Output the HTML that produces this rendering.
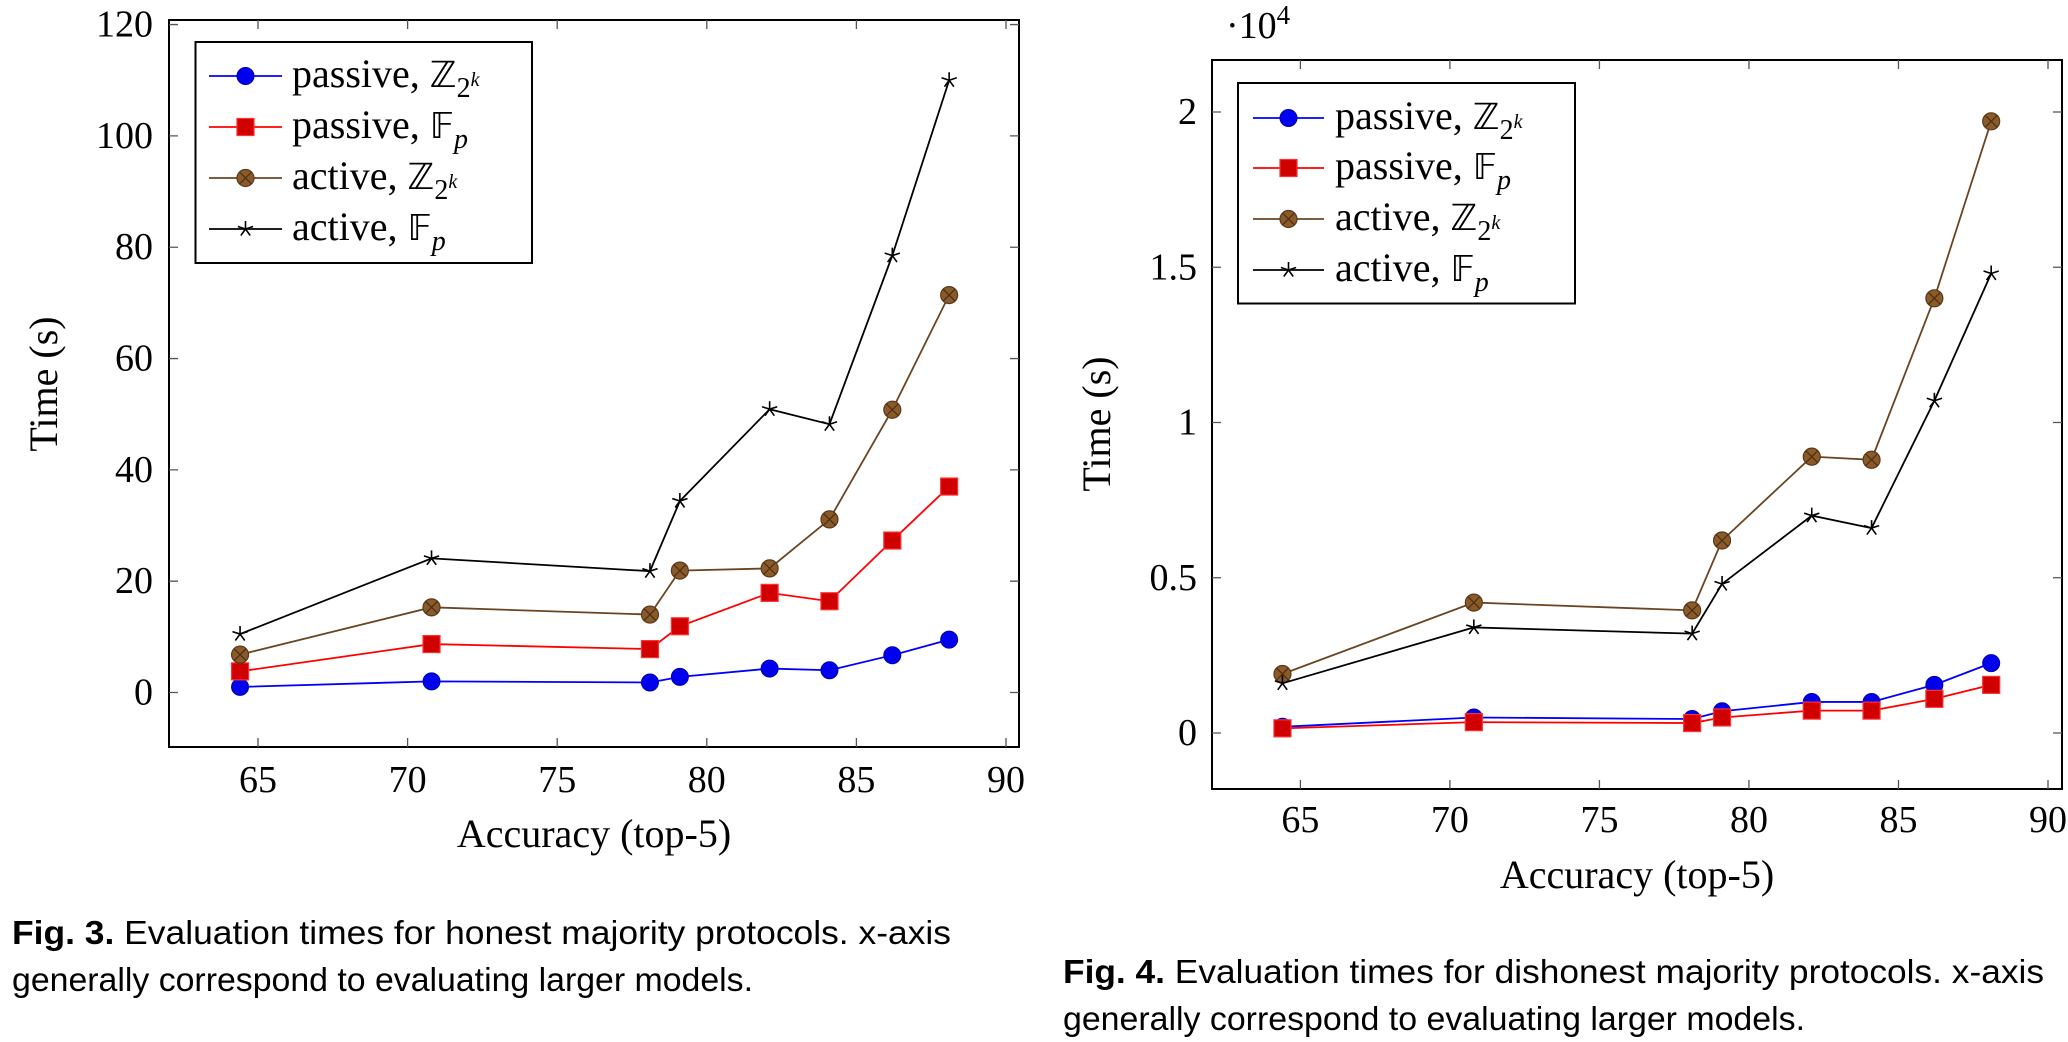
<!DOCTYPE html>
<html><head><meta charset="utf-8"><style>
body{margin:0;background:#fff;width:2068px;height:1042px;overflow:hidden}
svg{display:block}
.serif{font-family:"Liberation Serif","DejaVu Serif",serif}
.sans{font-family:"Liberation Sans","DejaVu Sans",sans-serif}
</style></head><body>
<svg id="svg" width="2068" height="1042" viewBox="0 0 2068 1042" xmlns="http://www.w3.org/2000/svg">
<text class="sans" x="12" y="944" font-size="33" textLength="939" lengthAdjust="spacingAndGlyphs"><tspan font-weight="bold">Fig. 3.</tspan> Evaluation times for honest majority protocols. x-axis</text>
<text class="sans" x="12" y="991" font-size="33" textLength="741" lengthAdjust="spacingAndGlyphs">generally correspond to evaluating larger models.</text>
<text class="sans" x="1063" y="983" font-size="33" textLength="981" lengthAdjust="spacingAndGlyphs"><tspan font-weight="bold">Fig. 4.</tspan> Evaluation times for dishonest majority protocols. x-axis</text>
<text class="sans" x="1063" y="1030" font-size="33" textLength="742" lengthAdjust="spacingAndGlyphs">generally correspond to evaluating larger models.</text>
</svg>
<script>
const xVals=[64.4,70.8,78.1,79.1,82.1,84.1,86.2,88.1];
const xTicks=[65,70,75,80,85,90];
const leftYTicks=[0,20,40,60,80,100,120];
const leftPassiveZ=[1,2,1.8,2.8,4.3,4,6.7,9.5];
const leftPassiveF=[3.8,8.7,7.8,11.9,17.9,16.4,27.3,37];
const leftActiveZ=[6.8,15.3,14,21.9,22.3,31.1,50.8,71.4];
const leftActiveF=[10.5,24.1,21.8,34.4,50.9,48.2,78.5,110];
const rightYTicks=[0,0.5,1,1.5,2];
const rightYLabels=["0","0.5","1","1.5","2"];
const rightPassiveZ=[0.02,0.05,0.045,0.07,0.1,0.1,0.155,0.225];
const rightPassiveF=[0.015,0.035,0.032,0.05,0.072,0.072,0.11,0.155];
const rightActiveZ=[0.19,0.42,0.395,0.62,0.89,0.88,1.4,1.97];
const rightActiveF=[0.16,0.34,0.32,0.48,0.70,0.66,1.07,1.48];

const NS="http://www.w3.org/2000/svg";
const svg=document.getElementById('svg');
function mk(tag,attrs,parent){const e=document.createElementNS(NS,tag);for(const k in attrs)e.setAttribute(k,attrs[k]);(parent||svg).appendChild(e);return e;}

function marker(g,type,x,y){
  let e;
  if(type==='circle'){e=mk('circle',{cx:x,cy:y,r:8.5,fill:'#0000ee',stroke:'#0000aa','stroke-width':1},g);}
  else if(type==='square'){e=mk('rect',{x:x-8.5,y:y-8.5,width:17,height:17,fill:'#d00000',stroke:'#ff3030','stroke-width':1.2},g);}
  else if(type==='otimes'){e=mk('g',{},g);
    mk('circle',{cx:x,cy:y,r:8.5,fill:'#8b5a2b',stroke:'#5a3a1a','stroke-width':1.2},e);
    const d=6;mk('path',{d:`M${x-d} ${y-d}L${x+d} ${y+d}M${x-d} ${y+d}L${x+d} ${y-d}`,stroke:'#4a2e12','stroke-width':1.2},e);}
  else {e=mk('g',{},g);let d='';for(let i=0;i<5;i++){const a=-Math.PI/2+i*2*Math.PI/5;d+=`M${x} ${y}L${x+8*Math.cos(a)} ${y+8*Math.sin(a)}`;}
    mk('path',{d:d,stroke:'#000','stroke-width':1.6,fill:'none'},e);}
  
  
}

function chart(o){
  const g=mk('g',{});
  
  
  const sx=v=>o.x65+(v-65)*(o.x90-o.x65)/25;
  const sy=v=>o.y0-v*o.ppu;
  const box=mk('rect',{x:o.L,y:o.T,width:o.R-o.L,height:o.B-o.T,fill:'none',stroke:'#000','stroke-width':2},g);
  
  
  xTicks.forEach(t=>{const x=sx(t);
    const tk=mk('path',{d:`M${x} ${o.B}V${o.B-9}M${x} ${o.T}V${o.T+9}`,stroke:'#555','stroke-width':1.3},g);
    
    
    const tl=mk('text',{x:x,y:o.xLabY,'text-anchor':'middle','font-size':38,class:'serif'},g);tl.textContent=t;
    
    });
  o.yTicks.forEach((t,i)=>{const y=sy(t);
    const tk=mk('path',{d:`M${o.L} ${y}H${o.L+9}M${o.R} ${y}H${o.R-9}`,stroke:'#555','stroke-width':1.3},g);
    
    
    const tl=mk('text',{x:o.yLabX,y:y+12,'text-anchor':'end','font-size':38,class:'serif'},g);tl.textContent=o.yLabels[i];
    
    });
  const series=[[o.s[0],'#0000ff','circle'],[o.s[1],'#ff0000','square'],[o.s[2],'#6b4423','otimes'],[o.s[3],'#000','star']];
  series.forEach(([vals,col,type])=>{
    const pl=mk('polyline',{points:vals.map((v,i)=>sx(xVals[i])+','+sy(v)).join(' '),fill:'none',stroke:col,'stroke-width':1.8},g);
    
    
    vals.forEach((v,i)=>marker(g,type,sx(xVals[i]),sy(v)));});
  const lg=mk('g',{},g);
  
  
  mk('rect',{x:o.lg[0],y:o.lg[1],width:o.lg[2]-o.lg[0],height:o.lg[3]-o.lg[1],fill:'#fff',stroke:'#000','stroke-width':2},lg);
  const names=[['passive, ','ℤ','2','k'],['passive, ','𝔽','p',''],['active, ','ℤ','2','k'],['active, ','𝔽','p','']];
  series.forEach(([v,col,type],i)=>{const y=o.rows[i];
    const ent=mk('g',{},lg);
    
    
    mk('line',{x1:o.lx1,x2:o.lx2,y1:y,y2:y,stroke:col,'stroke-width':1.8},ent);
    marker(ent,type,(o.lx1+o.lx2)/2,y);
    const t=mk('text',{x:o.tx,y:y+11,'font-size':40,class:'serif'},ent);
    const n=names[i];
    t.innerHTML=n[0]+`<tspan font-family="DejaVu Sans" font-size="36">${n[1]}</tspan><tspan font-size="28" dy="10" font-style="${n[2]=='p'?'italic':'normal'}">${n[2]}</tspan>`+(n[3]?`<tspan font-size="20" dy="-11" font-style="italic">${n[3]}</tspan>`:'');});
  const xl=mk('text',{x:o.xl[0],y:o.xl[1],'text-anchor':'middle','font-size':40,class:'serif'},g);xl.textContent='Accuracy (top-5)';
  
  
  const yl=mk('text',{x:o.yl[0],y:o.yl[1],'text-anchor':'middle','font-size':40,class:'serif',transform:`rotate(-90 ${o.yl[0]} ${o.yl[1]})`},g);yl.textContent='Time (s)';
  
  
}
chart({name:'chart-honest-majority',L:169,R:1019,T:20,B:747,x65:258,x90:1006,y0:692.5,ppu:5.566,yTicks:leftYTicks,yLabels:leftYTicks.map(String),
  xLabY:792,yLabX:153,s:[leftPassiveZ,leftPassiveF,leftActiveZ,leftActiveF],lg:[195.5,42,532,263],rows:[76,127,178,229],lx1:209,lx2:282,tx:292,
  xl:[594,847],yl:[57,384]});
chart({name:'chart-dishonest-majority',L:1212,R:2062,T:60,B:789,x65:1300.4,x90:2048,y0:733,ppu:310.5,yTicks:rightYTicks,yLabels:rightYLabels,
  xLabY:832,yLabX:1197,s:[rightPassiveZ,rightPassiveF,rightActiveZ,rightActiveF],lg:[1238,83,1575,303.5],rows:[118,168,219,270],lx1:1253,lx2:1324,tx:1335,
  xl:[1637,888],yl:[1110,424]});
const sc=mk('text',{x:1226,y:38,'font-size':38,class:'serif'});
sc.innerHTML='·10<tspan font-size="27" dy="-14">4</tspan>';


</script>
</body></html>
